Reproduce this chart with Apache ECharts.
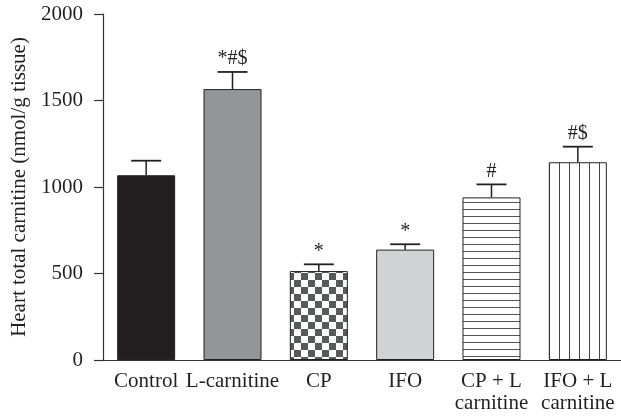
<!DOCTYPE html>
<html>
<head>
<meta charset="utf-8">
<script src="https://cdn.jsdelivr.net/npm/echarts@6/dist/echarts.min.js"></script>
<style>html,body{margin:0;padding:0;background:#fff;}#c{width:621px;height:416px;}</style>
</head>
<body>
<div id="c"></div>
<script>
var categories = ['Control', 'L-carnitine', 'CP', 'IFO', 'CP + L\ncarnitine', 'IFO + L\ncarnitine'];
var means = [1068, 1566, 514, 638, 940, 1143];
var errTops = [1152, 1665, 553, 669, 1015, 1233];
var marks = ['', '*#$', '*', '*', '#', '#$'];
var yTicks = [0, 500, 1000, 1500, 2000];

var FONT = '"Liberation Serif", "Times New Roman", serif';
var INK = '#231f20';

function mk(w, h, draw) {
  var c = document.createElement('canvas');
  c.width = w; c.height = h;
  var g = c.getContext('2d');
  g.fillStyle = '#fff'; g.fillRect(0, 0, w, h);
  draw(g);
  return c;
}
var checker = mk(14, 14, function (g) {
  g.fillStyle = '#58595b';
  g.fillRect(0, 0, 7, 7); g.fillRect(7, 7, 7, 7);
});
var hstripe = mk(8, 7, function (g) {
  g.fillStyle = '#555'; g.fillRect(0, 6, 8, 1.2);
});
var vstripe = mk(10, 8, function (g) {
  g.fillStyle = '#444'; g.fillRect(9, 0, 1.1, 8);
});

var fills = [
  '#231f20',
  '#939598',
  { image: checker, repeat: 'repeat' },
  '#d1d3d4',
  { image: hstripe, repeat: 'repeat' },
  { image: vstripe, repeat: 'repeat' }
];

var barData = means.map(function (v, i) {
  return { value: v, itemStyle: { color: fills[i] } };
});
var errData = means.map(function (v, i) {
  return [i, v, errTops[i], marks[i]];
});

var chart = echarts.init(document.getElementById('c'), null, { renderer: 'canvas' });
chart.setOption({
  animation: false,
  backgroundColor: '#fff',
  grid: { left: 103, top: 14, width: 522, bottom: 56, containLabel: false },
  xAxis: {
    type: 'category',
    data: categories,
    axisLine: { lineStyle: { color: '#333', width: 1.2 } },
    axisTick: { show: false },
    axisLabel: { color: INK, fontFamily: FONT, fontSize: 21, lineHeight: 22, margin: 10, interval: 0 }
  },
  yAxis: {
    type: 'value',
    min: yTicks[0], max: yTicks[yTicks.length - 1], interval: 500,
    name: 'Heart total carnitine (nmol/g tissue)',
    nameLocation: 'middle',
    nameGap: 68,
    nameTextStyle: { color: INK, fontFamily: FONT, fontSize: 21 },
    axisLine: { show: true, lineStyle: { color: '#333', width: 1.2 } },
    axisTick: { show: true, length: 9, lineStyle: { color: '#333', width: 1.2 } },
    splitLine: { show: false },
    axisLabel: { color: INK, fontFamily: FONT, fontSize: 21, margin: 20, formatter: function (v) { return String(v); } }
  },
  series: [
    {
      type: 'bar',
      data: barData,
      barWidth: 58,
      itemStyle: { borderColor: '#222', borderWidth: 1 }
    },
    {
      type: 'custom',
      data: errData,
      z: 5,
      renderItem: function (params, api) {
        var i = api.value(0);
        var p0 = api.coord([i, api.value(1)]);
        var p1 = api.coord([i, api.value(2)]);
        var half = 15;
        var txt = marks[params.dataIndex];
        return {
          type: 'group',
          children: [
            { type: 'line', shape: { x1: p0[0], y1: p0[1], x2: p1[0], y2: p1[1] }, style: { stroke: '#231f20', lineWidth: 1.5 } },
            { type: 'line', shape: { x1: p1[0] - half, y1: p1[1], x2: p1[0] + half, y2: p1[1] }, style: { stroke: '#231f20', lineWidth: 1.8 } },
            { type: 'text', style: { text: txt, x: p1[0], y: p1[1] - 3, align: 'center', verticalAlign: 'bottom', fontSize: 20, fontFamily: FONT, fill: INK } }
          ]
        };
      }
    }
  ]
});
</script>
</body>
</html>
